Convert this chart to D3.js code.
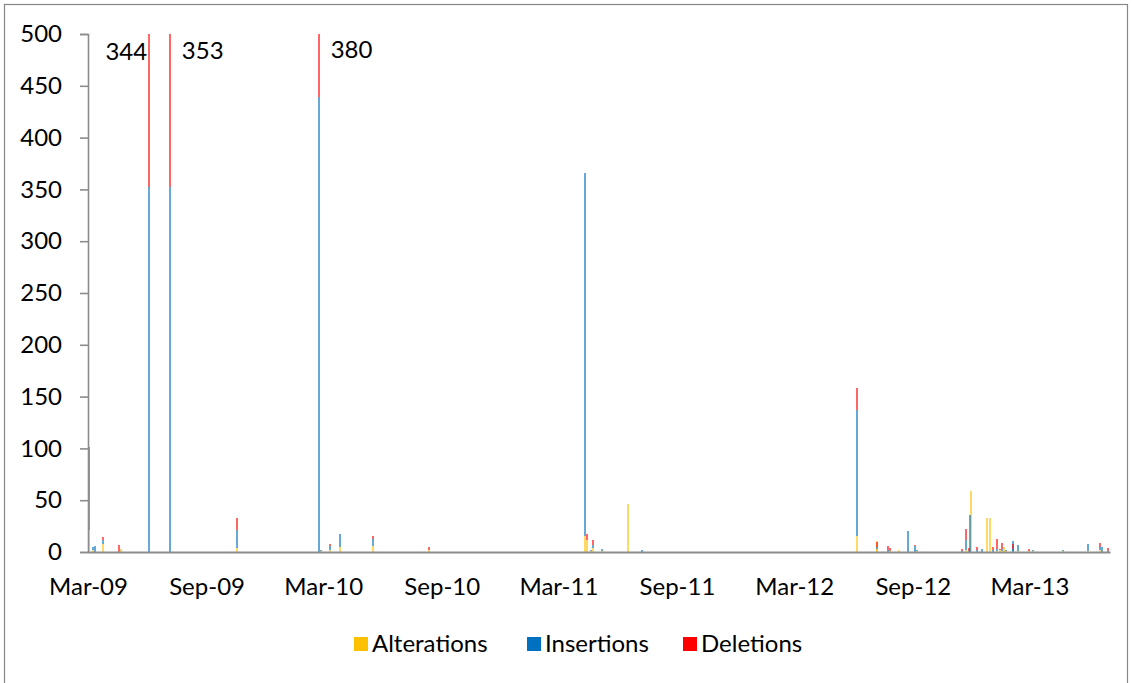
<!DOCTYPE html>
<html>
<head>
<meta charset="utf-8">
<script src="https://cdn.jsdelivr.net/npm/d3@7"></script>
<style>
  html, body { margin: 0; padding: 0; background: #ffffff; }
  svg { display: block; font-family: Lato, "Open Sans", sans-serif; }
</style>
</head>
<body>
<svg id="chart" width="1132" height="683"></svg>
<script>
// Daily edit counts, split by kind of change
const dates = [
  "2009-03-02", "2009-03-09", "2009-03-12", "2009-03-25", "2009-04-18", "2009-04-21",
  "2009-06-04", "2009-07-06", "2009-10-19", "2010-02-22", "2010-02-25", "2010-03-12",
  "2010-03-27", "2010-05-18", "2010-08-12", "2011-04-12", "2011-04-14", "2011-04-21",
  "2011-04-24", "2011-05-07", "2011-06-17", "2011-07-09", "2012-06-06", "2012-07-07",
  "2012-07-08", "2012-07-25", "2012-07-27", "2012-08-11", "2012-08-25", "2012-09-04",
  "2012-09-08", "2012-11-16", "2012-11-22", "2012-11-27", "2012-11-29", "2012-12-01",
  "2012-12-10", "2012-12-18", "2012-12-25", "2012-12-30", "2013-01-03", "2013-01-09",
  "2013-01-14", "2013-01-18", "2013-01-20", "2013-01-24", "2013-02-03", "2013-02-04",
  "2013-02-11", "2013-02-28", "2013-03-06", "2013-04-22", "2013-05-31", "2013-06-19",
  "2013-06-22", "2013-07-01"
];
const alterations = [
  21, 2, 0, 8, 0, 3,
  0, 0, 4, 0, 1, 2,
  5, 6, 2, 15, 12, 1,
  4, 1, 46, 0, 15, 3,
  11, 0, 1, 2, 0, 0,
  1, 0, 2, 0, 0, 59,
  0, 0, 33, 33, 0, 1,
  2, 1, 5, 1, 1, 0,
  1, 1, 1, 1, 1, 2,
  0, 0
];
const insertions = [
  32, 3, 6, 4, 0, 0,
  352, 352, 17, 439, 1, 4,
  12, 7, 0, 351, 0, 1,
  3, 2, 0, 2, 122, 2,
  0, 2, 0, 0, 20, 6,
  1, 1, 10, 1, 36, 0,
  2, 3, 0, 0, 2, 2,
  0, 2, 0, 1, 2, 11,
  6, 0, 1, 1, 7, 3,
  5, 1
];
const deletions = [
  48, 0, 0, 2, 7, 0,
  344, 353, 12, 380, 0, 2,
  0, 2, 3, 0, 5, 0,
  5, 0, 0, 0, 21, 5,
  0, 4, 3, 0, 0, 1,
  0, 2, 10, 3, 0, 0,
  3, 0, 0, 0, 3, 10,
  1, 6, 0, 0, 5, 0,
  0, 2, 0, 0, 0, 4,
  0, 3
];

const seriesNames = ["Alterations", "Insertions", "Deletions"];
const seriesColors = ["#FFC000", "#0070C0", "#FF0000"];
const xTickDates = ["2009-03-01", "2009-09-01", "2010-03-01", "2010-09-01", "2011-03-01",
                    "2011-09-01", "2012-03-01", "2012-09-01", "2013-03-01"];
const yTickValues = [0, 50, 100, 150, 200, 250, 300, 350, 400, 450, 500];
const axisStart = "2009-03-01";
const axisEnd = "2013-07-04";

const parse = d3.timeParse("%Y-%m-%d");
const fmt = d3.timeFormat("%b-%y");

const svg = d3.select("#chart");
const plot = { left: 88, right: 1110, top: 34, bottom: 552 };

// Chart area frame
svg.append("rect")
  .attr("x", 4.5).attr("y", 4.5)
  .attr("width", 1123).attr("height", 720)
  .attr("fill", "none").attr("stroke", "#878787").attr("stroke-width", 1.2);

const x = d3.scaleTime()
  .domain([parse(axisStart), parse(axisEnd)])
  .range([plot.left, plot.right]);
const y = d3.scaleLinear()
  .domain([0, 500])
  .range([plot.bottom, plot.top]);

const rows = dates.map((d, i) => ({
  date: parse(d),
  Alterations: alterations[i],
  Insertions: insertions[i],
  Deletions: deletions[i]
}));
const stacked = d3.stack().keys(seriesNames)(rows);

svg.append("clipPath").attr("id", "plotClip")
  .append("rect")
  .attr("x", plot.left - 1).attr("y", plot.top)
  .attr("width", plot.right - plot.left + 1).attr("height", plot.bottom - plot.top);

// Hairline columns, softened like thin sub-pixel columns
const barW = 2;
const bars = svg.append("g")
  .attr("clip-path", "url(#plotClip)")
  .attr("shape-rendering", "crispEdges")
  .attr("fill-opacity", 0.6);
bars.selectAll("g.series")
  .data(stacked)
  .join("g")
  .attr("class", "series")
  .attr("fill", (s, i) => seriesColors[i])
  .selectAll("rect")
  .data(s => s.filter(seg => seg[1] > seg[0]))
  .join("rect")
  .attr("x", seg => Math.round(x(seg.data.date) - barW / 2))
  .attr("width", barW)
  .attr("y", seg => y(seg[1]))
  .attr("height", seg => y(seg[0]) - y(seg[1]));

// Value labels for deletions on bars that run past the top of the axis
const over = rows.map((r, i) => ({ r, i, total: alterations[i] + insertions[i] + deletions[i] }))
  .filter(o => o.total > 500);
svg.append("g").selectAll("text")
  .data(over)
  .join("text")
  .attr("x", (o, k) => k === 0 ? x(o.r.date) - 2 : x(o.r.date) + 12)
  .attr("y", (o, k) => [60, 58.5, 57.5][k])
  .attr("text-anchor", (o, k) => k === 0 ? "end" : "start")
  .attr("font-size", 24)
  .attr("fill", "#000")
  .text(o => deletions[o.i]);

// Y axis
const yAxis = svg.append("g")
  .attr("transform", `translate(${plot.left},0)`)
  .call(d3.axisLeft(y).tickValues(yTickValues).tickSize(8).tickPadding(18).tickFormat(d3.format("d")));
yAxis.select(".domain").attr("stroke", "#8c8c8c").attr("stroke-width", 1.6);
yAxis.selectAll(".tick line").attr("stroke", "#8c8c8c").attr("stroke-width", 1.6);
yAxis.selectAll(".tick text").attr("font-size", 24).attr("fill", "#000")
  .attr("font-family", "Lato, 'Open Sans', sans-serif");

// X axis
const xAxis = svg.append("g")
  .attr("transform", `translate(0,${plot.bottom})`)
  .call(d3.axisBottom(x).tickValues(xTickDates.map(parse)).tickSize(0).tickPadding(26).tickFormat(fmt));
xAxis.select(".domain").attr("stroke", "#8c8c8c").attr("stroke-width", 2);
xAxis.selectAll(".tick text").attr("font-size", 24).attr("fill", "#000")
  .attr("font-family", "Lato, 'Open Sans', sans-serif");

// Legend
const legendX = [354, 527, 683];
const legend = svg.append("g").selectAll("g")
  .data(seriesNames)
  .join("g")
  .attr("transform", (d, i) => `translate(${legendX[i]},637)`);
legend.append("rect")
  .attr("width", 14).attr("height", 14)
  .attr("fill", (d, i) => seriesColors[i]);
legend.append("text")
  .attr("x", 18).attr("y", 15)
  .attr("font-size", 24).attr("fill", "#000")
  .text(d => d);
</script>
</body>
</html>
